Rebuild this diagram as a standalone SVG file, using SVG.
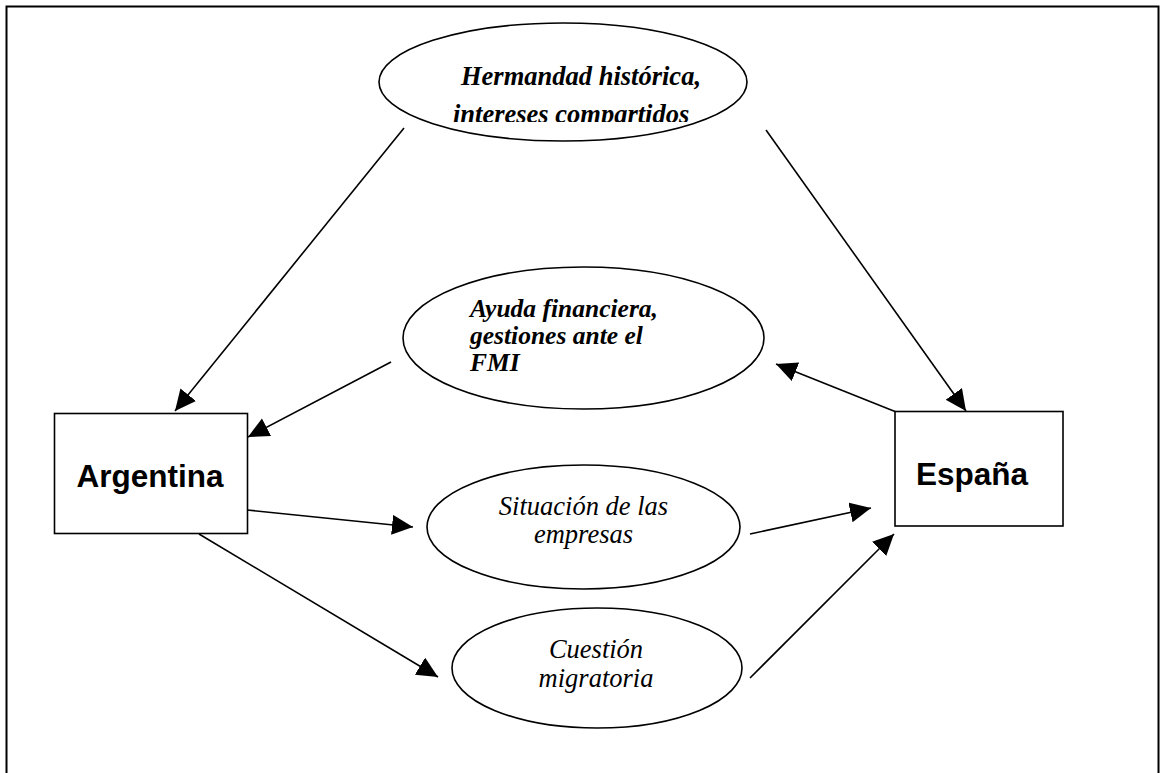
<svg xmlns="http://www.w3.org/2000/svg" width="1161" height="773" viewBox="0 0 1161 773">
<style>
.shape{fill:#fff;stroke:#000;stroke-width:1.6}
.conn line{stroke:#000;stroke-width:1.6}
.box{font-family:"Liberation Sans",Arial,sans-serif;font-weight:bold;font-size:31.5px;fill:#000}
.bi{font-family:"Liberation Serif","Times New Roman",serif;font-weight:bold;font-style:italic;font-size:26.5px;fill:#000}
.bi2{font-family:"Liberation Serif","Times New Roman",serif;font-weight:bold;font-style:italic;font-size:25.5px;fill:#000}
.it{font-family:"Liberation Serif","Times New Roman",serif;font-style:italic;font-size:26.5px;fill:#000}
</style>
<defs>
<marker id="arr" markerUnits="userSpaceOnUse" markerWidth="22" markerHeight="22" refX="21" refY="10" orient="auto" viewBox="0 0 22 22">
<path d="M0,0 L21,10 L0,20 Z" fill="#000"/>
</marker>
<clipPath id="clipTop"><rect x="370" y="15" width="390" height="107"/></clipPath>
</defs>
<rect x="6.5" y="6.5" width="1152" height="800" fill="#fff" stroke="#000" stroke-width="2"/>
<g id="n-hermandad">
<ellipse class="shape" cx="563" cy="82" rx="184" ry="59"/>
<g clip-path="url(#clipTop)">
<text class="bi" x="461" y="85">Hermandad histórica,</text>
<text class="bi" x="453" y="122.5">intereses compartidos</text>
</g>
</g>
<g id="n-ayuda">
<ellipse class="shape" cx="583.5" cy="338" rx="180.5" ry="71"/>
<text class="bi2" x="470" y="317">Ayuda financiera,</text>
<text class="bi2" x="470" y="344">gestiones ante el</text>
<text class="bi2" x="470" y="371">FMI</text>
</g>
<g id="n-situacion">
<ellipse class="shape" cx="583.5" cy="527" rx="156.5" ry="62"/>
<text class="it" x="583.5" y="515" text-anchor="middle">Situación de las</text>
<text class="it" x="583.5" y="543" text-anchor="middle">empresas</text>
</g>
<g id="n-cuestion">
<ellipse class="shape" cx="597" cy="668" rx="145" ry="60"/>
<text class="it" x="596" y="658" text-anchor="middle">Cuestión</text>
<text class="it" x="596" y="687" text-anchor="middle">migratoria</text>
</g>
<g id="n-argentina">
<rect class="shape" x="54.5" y="413.5" width="193" height="120"/>
<text class="box" x="150" y="487" text-anchor="middle">Argentina</text>
</g>
<g id="n-espana">
<rect class="shape" x="895" y="411.5" width="168" height="114.5"/>
<text class="box" x="972" y="485" text-anchor="middle">España</text>
</g>
<g class="conn" id="connectors">
<line x1="404" y1="128" x2="175" y2="411" marker-end="url(#arr)"/>
<line x1="766" y1="130" x2="966" y2="411" marker-end="url(#arr)"/>
<line x1="391" y1="362" x2="248" y2="437" marker-end="url(#arr)"/>
<line x1="895" y1="411.5" x2="776" y2="364" marker-end="url(#arr)"/>
<line x1="247" y1="510" x2="413" y2="527" marker-end="url(#arr)"/>
<line x1="750" y1="534" x2="871" y2="508" marker-end="url(#arr)"/>
<line x1="199" y1="534" x2="438" y2="677" marker-end="url(#arr)"/>
<line x1="750" y1="678" x2="894" y2="534" marker-end="url(#arr)"/>
</g>
</svg>
